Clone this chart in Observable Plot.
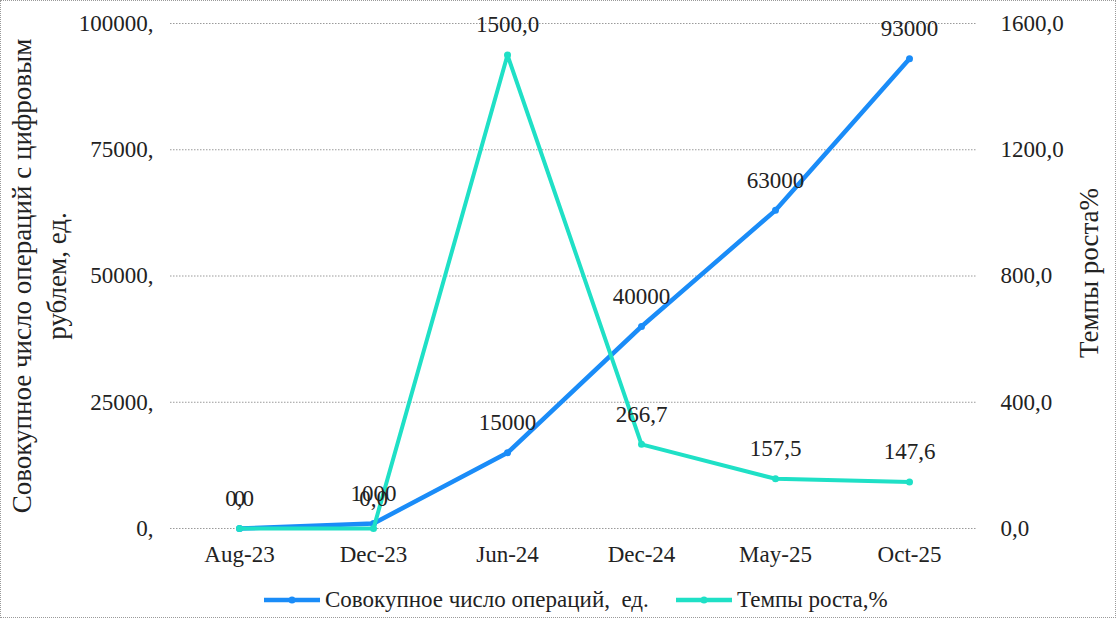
<!DOCTYPE html>
<html>
<head>
<meta charset="utf-8">
<script src="https://cdn.jsdelivr.net/npm/d3@7"></script>
<script src="https://cdn.jsdelivr.net/npm/@observablehq/plot@0.6"></script>
<style>
  html, body { margin: 0; padding: 0; background: #fff; }
  #wrap { position: relative; width: 1116px; height: 618px; font-family: "Liberation Serif", "Times New Roman", serif; }
  #wrap svg text { font-family: "Liberation Serif", "Times New Roman", serif; }
  #frame { position: absolute; left: 0; top: 0; width: 1114px; height: 616px; border: 1px dotted #9a9a9a; pointer-events: none; }
  #chart { position: absolute; left: 0; top: 0; }
  .leg { position: absolute; top: 586px; height: 28px; display: flex; align-items: center; font-size: 23px; color: #222; white-space: pre; }
  .leg svg { margin-right: 5px; }
</style>
</head>
<body>
<div id="wrap">
  <div id="chart"></div>
  <div class="leg" id="leg1" style="left:264px"></div>
  <div class="leg" id="leg2" style="left:676px"></div>
  <div id="frame"></div>
</div>
<script>
// ---- data ----
const categories = ["Aug-23", "Dec-23", "Jun-24", "Dec-24", "May-25", "Oct-25"];
const operations = [0, 1000, 15000, 40000, 63000, 93000];
const growth = [0.0, 0.0, 1500.0, 266.7, 157.5, 147.6];
const leftTicks = [0, 25000, 50000, 75000, 100000];
const rightTicks = [0, 400, 800, 1200, 1600];
const seriesNames = ["Совокупное число операций,  ед.", "Темпы роста,%"];
const leftTitle = ["Совокупное число операций с цифровым", "рублем, ед."];
const rightTitle = "Темпы роста%";

const blue = "#1a8cf8";
const cyan = "#1fe0c6";
const textColor = "#222";
const FS = 23;
const TFS = 27;
const FONT = "Liberation Serif, Times New Roman, serif";

const ratio = leftTicks[leftTicks.length - 1] / rightTicks[rightTicks.length - 1];
const fmt1 = v => v.toFixed(1).replace(".", ",");

const ops = categories.map((c, i) => ({cat: c, v: operations[i]}));
const gr = categories.map((c, i) => ({cat: c, v: growth[i] * ratio, raw: growth[i]}));
const rightTickPos = rightTicks.map(t => t * ratio);

const chart = Plot.plot({
  width: 1116,
  height: 580,
  marginLeft: 170,
  marginRight: 139,
  marginTop: 23,
  marginBottom: 52,
  style: {fontFamily: FONT, fontSize: FS + "px", color: textColor, background: "transparent"},
  x: {type: "point", domain: categories, padding: 0.5},
  y: {domain: [leftTicks[0], leftTicks[leftTicks.length - 1]]},
  marks: [
    Plot.gridY(leftTicks, {stroke: "#9a9a9a", strokeOpacity: 1, strokeDasharray: "1.5,1.5"}),
    Plot.axisY(leftTicks, {tickSize: 0, tickPadding: 17, fontSize: FS, tickFormat: d => d + ",", label: null}),
    Plot.axisY(rightTickPos, {anchor: "right", tickSize: 0, tickPadding: 23, fontSize: FS, tickFormat: d => fmt1(d / ratio), label: null}),
    Plot.axisX({tickSize: 0, tickPadding: 17, fontSize: FS, label: null}),
    Plot.line(ops, {x: "cat", y: "v", stroke: blue, strokeWidth: 4.5}),
    Plot.dot(ops, {x: "cat", y: "v", fill: blue, r: 3.5}),
    Plot.line(gr, {x: "cat", y: "v", stroke: cyan, strokeWidth: 4}),
    Plot.dot(gr, {x: "cat", y: "v", fill: cyan, r: 3.5}),
    Plot.text(ops, {x: "cat", y: "v", text: d => String(d.v), dy: -30, fontSize: FS, fill: textColor}),
    Plot.text(gr, {x: "cat", y: "v", text: d => fmt1(d.raw), dy: -30, fontSize: FS, fill: textColor}),
    Plot.text([leftTitle[0]], {frameAnchor: "left", textAnchor: "middle", dx: -148, dy: 0, rotate: -90, fontSize: TFS, fill: textColor}),
    Plot.text([leftTitle[1]], {frameAnchor: "left", textAnchor: "middle", dx: -113, dy: 0, rotate: -90, fontSize: TFS, fill: textColor}),
    Plot.text([rightTitle], {frameAnchor: "right", textAnchor: "middle", dx: 112, dy: -3, rotate: -90, fontSize: TFS, fill: textColor})
  ]
});
document.getElementById("chart").appendChild(chart);

function legendItem(el, color, name) {
  el.innerHTML = `<svg width="56" height="10"><line x1="0" y1="5" x2="56" y2="5" stroke="${color}" stroke-width="4.5"/><circle cx="28" cy="5" r="3.5" fill="${color}"/></svg><span>${name}</span>`;
}
legendItem(document.getElementById("leg1"), blue, seriesNames[0]);
legendItem(document.getElementById("leg2"), cyan, seriesNames[1]);
</script>
</body>
</html>
